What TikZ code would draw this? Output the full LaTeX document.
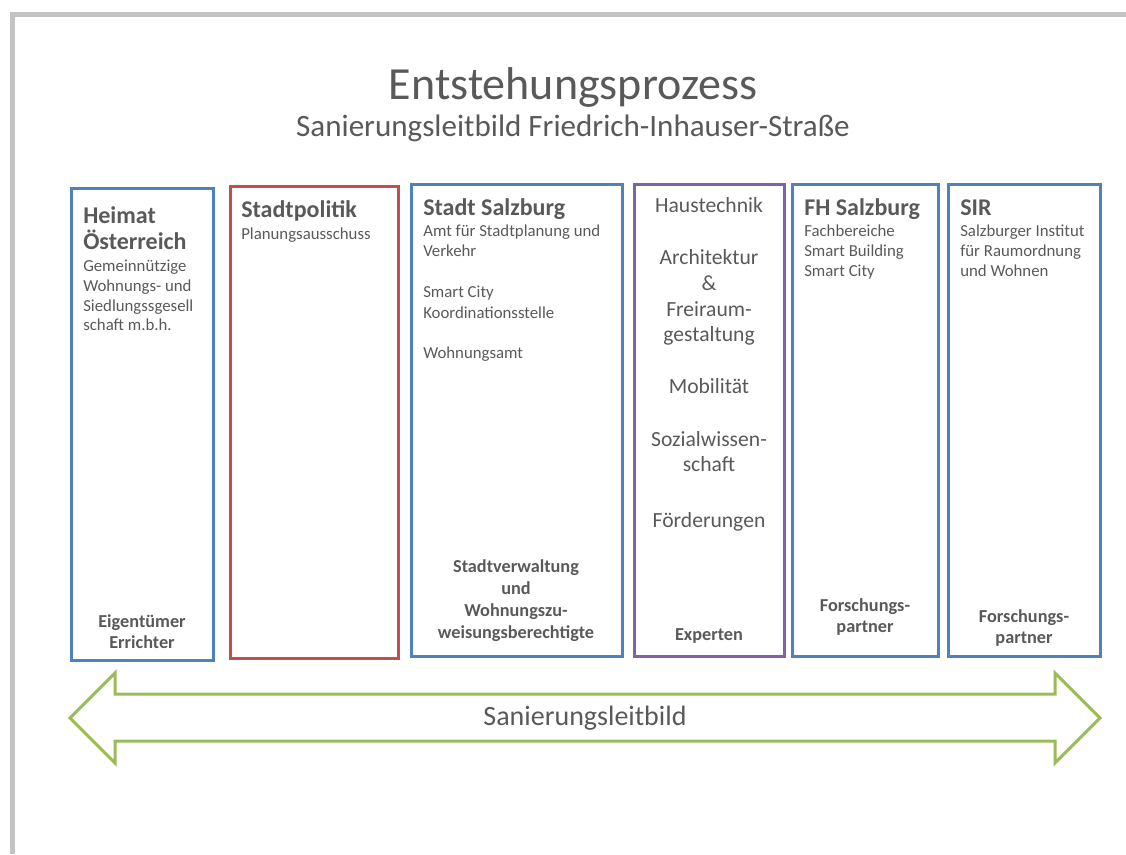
\documentclass[tikz,border=0pt]{standalone}
\usepackage{fontspec}
\setmainfont{Carlito}

\definecolor{txt}{HTML}{595959}
\definecolor{rahmen}{HTML}{C3C3C3}
\definecolor{blau}{HTML}{4F81BD}
\definecolor{rot}{HTML}{C0504D}
\definecolor{lila}{HTML}{8064A2}
\definecolor{gruen}{HTML}{9BBB59}

\begin{document}
\begin{tikzpicture}[x=0.75pt, y=-0.75pt,
    every node/.style={inner sep=0pt, text=txt},
    spalte/.style={draw=#1, line width=2.25pt, minimum height=354pt},
    kopf/.style={anchor=base west, font=\bfseries\fontsize{18}{22}\selectfont},
    zeile/.style={anchor=base west, font=\fontsize{12.6}{15}\selectfont},
    thema/.style={anchor=base, font=\fontsize{16.2}{19}\selectfont},
    fuss/.style={anchor=base, font=\bfseries\fontsize{13.7}{16}\selectfont}]
      \useasboundingbox (0,0) rectangle (1126,854);
      \draw[rahmen, line width=3.75pt] (12.5,854) -- (12.5,14.5) -- (1126,14.5);

      % Titel
      \node[anchor=base, font=\fontsize{34.5}{40}\selectfont] (titel) at (573,99) {Entstehungsprozess};
      \node[anchor=base, font=\fontsize{23.3}{28}\selectfont] (untertitel) at (573,136) {Sanierungsleitbild Friedrich-Inhauser-Straße};

      % Spalten
      \node[spalte=blau, minimum width=106.5pt] (heimat) at (142,424) {};
      \node[spalte=rot, minimum width=126pt] (politik) at (314,422) {};
      \node[spalte=blau, minimum width=158.25pt] (stadt) at (516.5,420) {};
      \node[spalte=lila, minimum width=112.5pt] (experten) at (709,420) {};
      \node[spalte=blau, minimum width=109.5pt] (fh) at (865,420) {};
      \node[spalte=blau, minimum width=114pt] (sir) at (1024,420) {};

      % Heimat Oesterreich
      \node[kopf] (h1) at (83,223) {Heimat};
      \node[kopf] (h2) at (83,249) {Österreich};
      \node[zeile] (h3) at (83,271) {Gemeinnützige};
      \node[zeile] (h4) at (83,291) {Wohnungs- und};
      \node[zeile] (h5) at (83,311) {Siedlungssgesell};
      \node[zeile] (h6) at (83,330) {schaft m.b.h.};
      \node[fuss] (h7) at (142,627) {Eigentümer};
      \node[fuss] (h8) at (142,648) {Errichter};

      % Stadtpolitik
      \node[kopf] (p1) at (241,217) {Stadtpolitik};
      \node[zeile] (p2) at (241,239) {Planungsausschuss};

      % Stadt Salzburg
      \node[kopf] (s1) at (423,215) {Stadt Salzburg};
      \node[zeile] (s2) at (423,236) {Amt für Stadtplanung und};
      \node[zeile] (s3) at (423,256) {Verkehr};
      \node[zeile] (s4) at (423,297) {Smart City};
      \node[zeile] (s5) at (423,318) {Koordinationsstelle};
      \node[zeile] (s6) at (423,358) {Wohnungsamt};
      \node[fuss] (s7) at (516,572) {Stadtverwaltung};
      \node[fuss] (s8) at (516,594) {und};
      \node[fuss] (s9) at (516,616) {Wohnungszu-};
      \node[fuss] (s10) at (516,638) {weisungsberechtigte};

      % Experten
      \node[thema] (e1) at (709,212) {Haustechnik};
      \node[thema] (e2) at (709,264) {Architektur};
      \node[thema] (e3) at (709,290) {\&};
      \node[thema] (e4) at (709,316) {Freiraum-};
      \node[thema] (e5) at (709,341) {gestaltung};
      \node[thema] (e6) at (709,393) {Mobilität};
      \node[thema] (e7) at (709,446) {Sozialwissen-};
      \node[thema] (e8) at (709,471) {schaft};
      \node[thema] (e9) at (709,527) {Förderungen};
      \node[fuss] (e10) at (709,640) {Experten};

      % FH Salzburg
      \node[kopf] (f1) at (804,215) {FH Salzburg};
      \node[zeile] (f2) at (804,236) {Fachbereiche};
      \node[zeile] (f3) at (804,256) {Smart Building};
      \node[zeile] (f4) at (804,276) {Smart City};
      \node[fuss] (f5) at (865,611) {Forschungs-};
      \node[fuss] (f6) at (865,632) {partner};

      % SIR
      \node[kopf] (r1) at (960,215) {SIR};
      \node[zeile] (r2) at (960,236) {Salzburger Institut};
      \node[zeile] (r3) at (960,256) {für Raumordnung};
      \node[zeile] (r4) at (960,276) {und Wohnen};
      \node[fuss] (r5) at (1024,622) {Forschungs-};
      \node[fuss] (r6) at (1024,643) {partner};

      % Doppelpfeil
      \draw[gruen, line width=2.25pt, line join=miter] (70,718) -- (115,673) -- (115,694) -- (1055,694)
        -- (1055,673) -- (1100,718) -- (1055,763) -- (1055,741) -- (115,741) -- (115,763) -- cycle;
      \node[anchor=base, font=\fontsize{21}{25}\selectfont] (leitbild) at (585,725) {Sanierungsleitbild};
    \end{tikzpicture}
\end{document}
